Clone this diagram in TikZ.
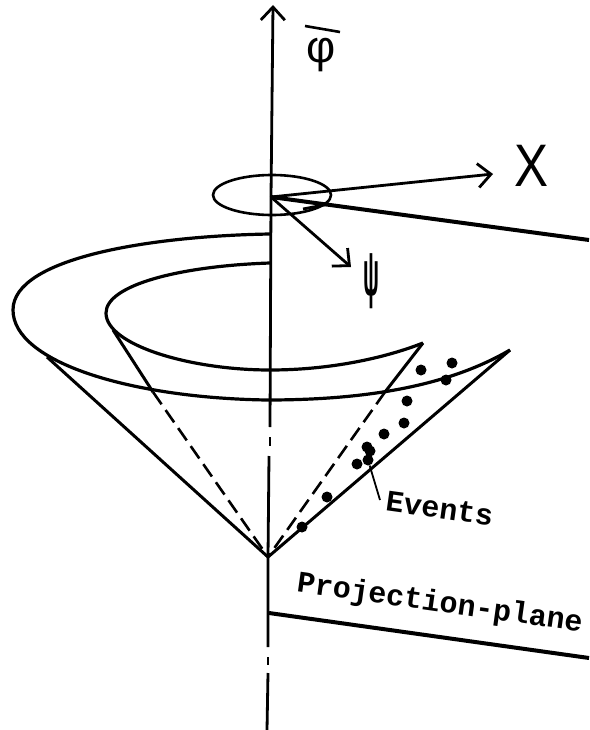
\documentclass[tikz,border=0pt]{standalone}
\usepackage{amsmath, amssymb}
\usepackage{fontspec}
\setmainfont{Liberation Sans}
\setmonofont{Liberation Mono}
\usetikzlibrary{arrows.meta, shapes.geometric}

\begin{document}
\begin{tikzpicture}[
      x=1pt, y=-1pt,
      axisline/.style={line width=2.8pt},
      curveline/.style={line width=3.2pt, line join=round},
      heavyline/.style={line width=4pt},
      coneline/.style={line width=3pt},
      hiddenline/.style={line width=2.6pt, dash pattern=on 15pt off 7pt},
      arr/.style={-{Straight Barb[length=13pt, width=24pt, line width=2.8pt]}, line width=2.8pt},
      eventdot/.style={circle, fill=black, inner sep=0pt, minimum size=11pt},
      lbl/.style={font=\ttfamily\bfseries\fontsize{30}{30}\selectfont, inner sep=0pt}
    ]
      \useasboundingbox (0, 0) rectangle (589, 730);

      % axis
      \coordinate (axistop) at (273, 5);
      \coordinate (origin) at (271, 197);
      \coordinate (gapa) at (270, 427);
      \coordinate (dotatop) at (270, 437);
      \coordinate (dotabot) at (270, 446);
      \coordinate (gapb) at (269, 456);
      \coordinate (apex) at (268, 557);
      \coordinate (gapc) at (268, 647);
      \coordinate (dotbtop) at (268, 657);
      \coordinate (dotbbot) at (268, 665);
      \coordinate (gapd) at (268, 673);
      \coordinate (axisend) at (267, 730);
      \draw[arr] (origin) -- (axistop);
      \draw[axisline] (origin) -- (gapa);
      \draw[axisline] (dotatop) -- (dotabot);
      \draw[axisline] (gapb) -- (apex) -- (gapc);
      \draw[axisline] (dotbtop) -- (dotbbot);
      \draw[axisline] (gapd) -- (axisend);

      % small circle and its arrows
      \node[draw, ellipse, line width=2.6pt, minimum width=118pt, minimum height=40pt,
            inner sep=0pt] (ring) at (272, 195) {};
      \coordinate (xtip) at (493, 174);
      \coordinate (psitip) at (351, 267);
      \coordinate (topedge) at (589, 240);
      \coordinate (marka) at (303, 209);
      \coordinate (markb) at (329, 204);
      \draw[arr] (origin) -- (xtip);
      \draw[arr] (origin) -- (psitip);
      \draw[heavyline] (origin) -- (topedge);
      \draw[line width=2.8pt] (marka) -- (markb);

      % outer cone
      \coordinate (outerleft) at (47, 357);
      \coordinate (outertip) at (510, 350);
      \draw[curveline] (270, 234) .. controls (150, 236) and (13, 258) .. (13, 310)
        .. controls (13, 362) and (130, 398) .. (267, 400)
        .. controls (370, 400) and (450, 385) .. (outertip);
      \draw[coneline] (outerleft) -- (apex);
      \draw[coneline] (outertip) -- (apex);

      % inner cone
      \coordinate (innerleft) at (113, 330);
      \coordinate (innertip) at (423, 343);
      \coordinate (crossleft) at (153, 392);
      \coordinate (crossright) at (385, 392);
      \draw[curveline] (270, 263) .. controls (180, 266) and (106, 285) .. (106, 313)
        .. controls (106, 345) and (190, 370) .. (270, 370)
        .. controls (330, 370) and (385, 358) .. (innertip);
      \draw[coneline] (innerleft) -- (crossleft);
      \draw[coneline] (innertip) -- (crossright);
      \draw[hiddenline] (crossleft) -- (apex);
      \draw[hiddenline] (crossright) -- (apex);

      % events
      \foreach \px/\py [count=\i] in {452/363, 421/370, 446/380, 407/401, 404/423, 384/434,
                                      367/447, 370/451, 368/460, 357/464, 327/497, 302/527}
        \node[eventdot] (ev\i) at (\px, \py) {};

      % labels
      \node[font=\fontsize{45}{45}\selectfont, inner sep=0pt] (philbl) at (321, 55) {φ};
      \coordinate (bara) at (305, 26);
      \coordinate (barb) at (340, 32);
      \draw[line width=2.6pt] (bara) -- (barb);
      \node[font=\fontsize{60}{60}\selectfont, inner sep=0pt, transform shape, xscale=0.85] (xlbl) at (532, 166) {X};
      \node[font=\bfseries\fontsize{64}{64}\selectfont, inner sep=0pt, transform shape, xscale=0.33] (psilbl) at (371, 281) {ψ};
      \node[lbl, rotate=-8, anchor=west] (eventslbl) at (386, 501) {Events};
      \node[lbl, rotate=-8, anchor=west] (planelbl) at (297, 584) {Projection-plane};
      \coordinate (leaderend) at (380, 500);
      \draw[line width=1.8pt] (leaderend) -- (ev9);

      % projection plane
      \coordinate (planestart) at (269, 613);
      \coordinate (planeend) at (589, 658);
      \draw[heavyline] (planestart) -- (planeend);
    \end{tikzpicture}
\end{document}
